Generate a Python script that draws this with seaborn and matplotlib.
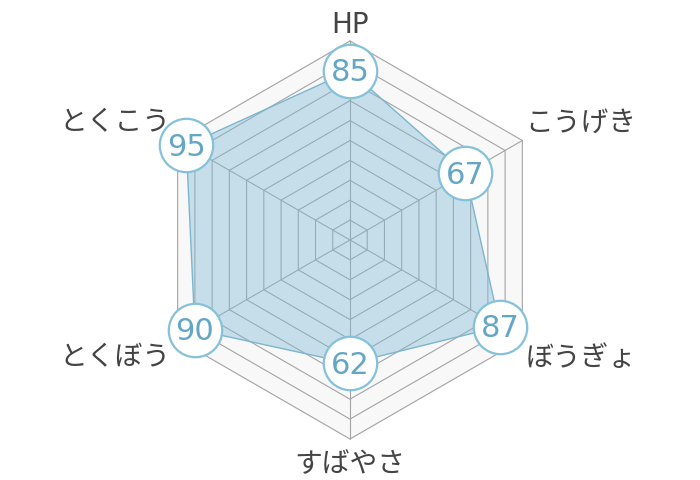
import numpy as np
import pandas as pd
import matplotlib.pyplot as plt
import seaborn as sns

# --- datos ---
labels = ["HP", "こうげき", "ぼうぎょ", "すばやさ", "とくぼう", "とくこう"]
values = [85, 67, 87, 62, 90, 95]
max_value = 100
ring_step = 10

sns.set_theme(style="white")
plt.rcParams["font.family"] = ["DejaVu Sans", "Noto Sans CJK JP"]

R = 199  # radio exterior en px
n = len(labels)
angles = np.deg2rad(90 - 360 / n * np.arange(n))

fig = plt.figure(figsize=(7, 4.8), dpi=100)
ax = fig.add_axes([0, 0, 1, 1])
ax.set_xlim(-350, 350)
ax.set_ylim(-240, 240)
ax.set_aspect("equal")
ax.axis("off")

closed = np.append(angles, angles[0])

# fondo del hexágono exterior
ax.fill(R * np.cos(closed), R * np.sin(closed), color="#f8f8f8", zorder=0)

# anillos y radios
for v in range(ring_step, max_value + 1, ring_step):
    r = R * v / max_value
    ax.plot(r * np.cos(closed), r * np.sin(closed), color="#a4a4a4", lw=0.8, zorder=1)
for a in angles:
    ax.plot([0, R * np.cos(a)], [0, R * np.sin(a)], color="#a4a4a4", lw=0.8, zorder=1)

# polígono de datos
rv = R * np.array(values) / max_value
df = pd.DataFrame({"x": rv * np.cos(angles), "y": rv * np.sin(angles), "label": labels, "value": values})
dfc = pd.concat([df, df.iloc[[0]]], ignore_index=True)
ax.fill(dfc.x, dfc.y, color="#7db9d4", alpha=0.4, lw=0, zorder=2)
sns.lineplot(data=dfc, x="x", y="y", sort=False, estimator=None, color="#7ab6d1", lw=1, ax=ax, zorder=3)

sns.scatterplot(data=df, x="x", y="y", s=1480, color="white", edgecolor="#84c1da",
                linewidth=1.6, ax=ax, zorder=4, legend=False)
for _, row in df.iterrows():
    ax.text(row.x, row.y + 1, str(row.value), ha="center", va="center_baseline", fontsize=22,
            color="#63a6c6", zorder=5)

# etiquetas de ejes
for lab, a in zip(labels, angles):
    c, s = np.cos(a), np.sin(a)
    x, y = (R + 8) * c, (R + 8) * s
    if abs(c) < 0.1:
        ha = "center"
        va = "baseline" if s > 0 else "top"
        if s < 0:
            y -= 3
    else:
        ha = "left" if c > 0 else "right"
        va = "bottom" if s > 0 else "top"
        x -= 4 * np.sign(c) if c > 0 else 0
    ax.text(x, y, lab, ha=ha, va=va, fontsize=20, color="#444444")

fig.savefig("out.png", dpi=100)
